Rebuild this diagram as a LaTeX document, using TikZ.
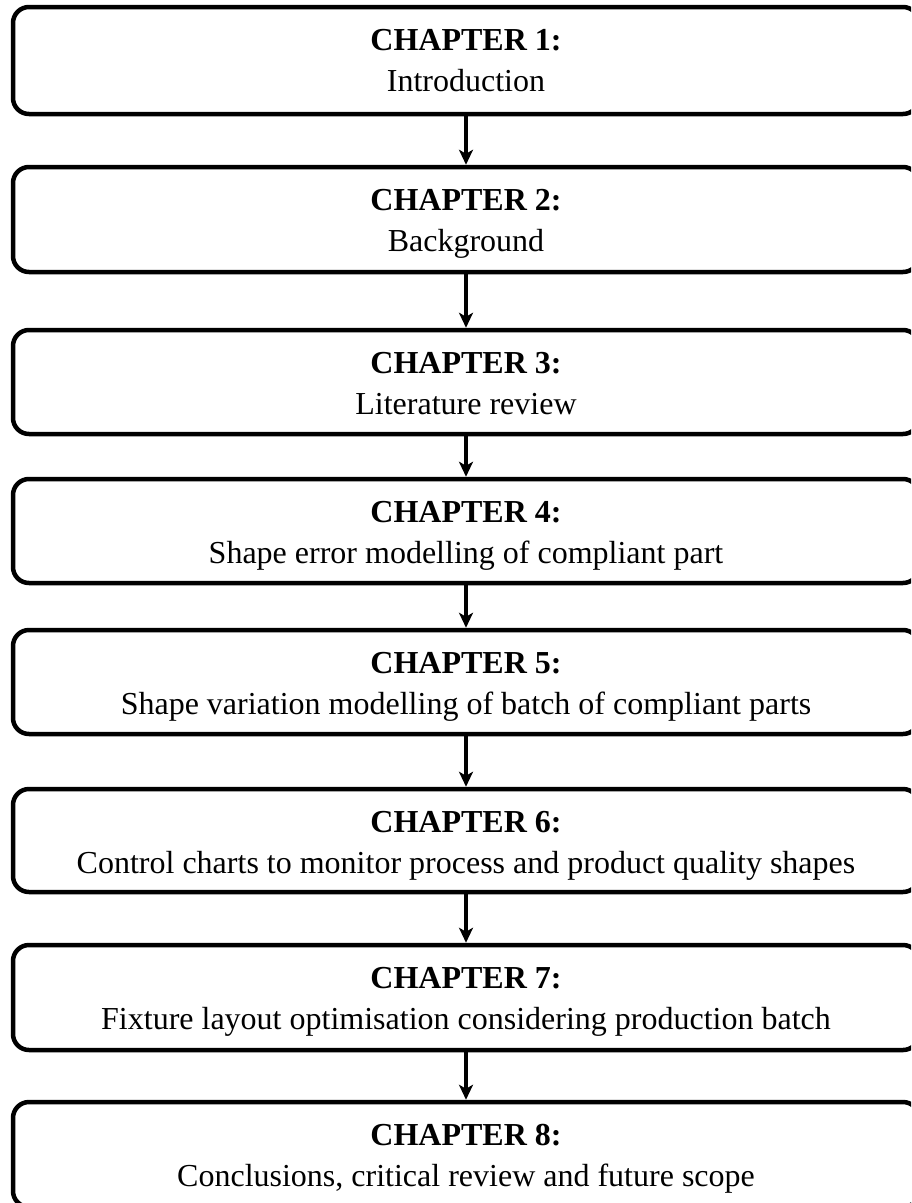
\documentclass[tikz,border=0pt]{standalone}
\usepackage{fontspec}
\setmainfont{Liberation Serif}
\usetikzlibrary{arrows.meta,calc}
\begin{document}
\begin{tikzpicture}[x=1pt,y=-1pt,
  chapbox/.style={draw=black, line width=4.5pt, rounded corners=16pt,
    minimum width=906pt, inner sep=0pt},
  heading/.style={font=\fontsize{32pt}{38pt}\selectfont\bfseries, inner sep=0pt, anchor=base},
  chaptitle/.style={font=\fontsize{32pt}{38pt}\selectfont, inner sep=0pt, anchor=base},
  flow/.style={line width=4.5pt, -{Stealth[length=15pt,width=14pt,inset=4pt]}}]
\useasboundingbox (0,0) rectangle (911,1203);
\clip (0,0) rectangle (911,1203);
% chapter boxes: number / top edge / bottom edge / title
\foreach \n/\top/\bot/\title in {
  1/7/114/{Introduction},
  2/167/272/{Background},
  3/330/434/{Literature review},
  4/479/583/{Shape error modelling of compliant part},
  5/630/734/{Shape variation modelling of batch of compliant parts},
  6/789/892/{Control charts to monitor process and product quality shapes},
  7/945/1050/{Fixture layout optimisation considering production batch},
  8/1102/1207/{Conclusions, critical review and future scope}}{
  \node[chapbox, minimum height={(\bot-\top)*1pt}] (c\n) at (466,{(\top+\bot)/2}) {};
  \node[heading] (h\n) at (466,\top+43) {CHAPTER \n:};
  \node[chaptitle] (t\n) at (466,\top+84) {\title};
}
% reading order arrows
\foreach \i in {1,...,7}{
  \pgfmathtruncatemacro\j{\i+1}
  \draw[flow] (c\i.south) -- (c\j.north);
}
\end{tikzpicture}
\end{document}
